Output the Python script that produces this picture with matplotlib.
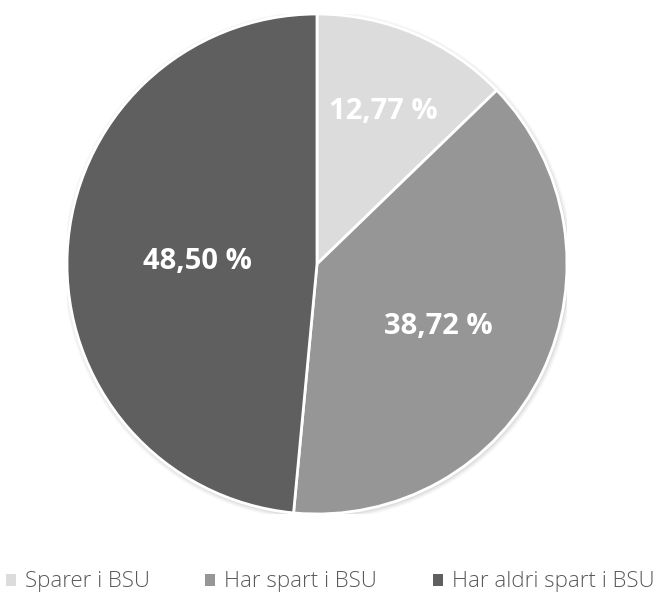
import numpy as np
import matplotlib
matplotlib.use("Agg")
import matplotlib.pyplot as plt
from matplotlib.patches import Circle

categories = ["Sparer i BSU", "Har spart i BSU", "Har aldri spart i BSU"]
shares = [12.77, 38.72, 48.50]
colors = ["#dcdcdc", "#969696", "#5f5f5f"]
# how far out each percentage label sits (fraction of radius)
label_radius = [0.68, 0.54, 0.48]

plt.rcParams["font.family"] = ["Open Sans", "DejaVu Sans"]

fig = plt.figure(figsize=(6.6, 5.96), dpi=100)
ax = fig.add_axes([67 / 660, 82 / 596, 500 / 660, 500 / 596])

# soft drop shadow behind the pie
for i, a in enumerate([0.05, 0.04, 0.03]):
    ax.add_patch(Circle((0.004, -0.006), 1.0 + 0.006 * (i + 1), color="black",
                        alpha=a, lw=0, zorder=0))

wedges, _ = ax.pie(shares, colors=colors, startangle=90, counterclock=False, radius=1.0,
                   wedgeprops=dict(edgecolor="white", linewidth=2.0), frame=True)
ax.set_xlim(-1.0, 1.0); ax.set_ylim(-1.0, 1.0)
ax.set_aspect("equal")
ax.axis("off")

for w, v, r in zip(wedges, shares, label_radius):
    ang = np.deg2rad((w.theta1 + w.theta2) / 2)
    ax.text(r * np.cos(ang), r * np.sin(ang), f"{v:.2f} %".replace(".", ","),
            ha="center", va="center_baseline", color="white", fontsize=21, fontweight="bold")

handles = [plt.Rectangle((0, 0), 1, 1, fc=c, ec="none") for c in colors]
fig.legend(handles, categories, loc="center", bbox_to_anchor=(0.5, 1 - 582 / 596),
           ncol=3, frameon=False, handlelength=0.45, handleheight=0.45,
           handletextpad=0.4, columnspacing=2.5, labelcolor="#595959",
           prop=dict(family=["Open Sans", "DejaVu Sans"], size=16, weight="light"))

fig.savefig("out.png", dpi=100)
